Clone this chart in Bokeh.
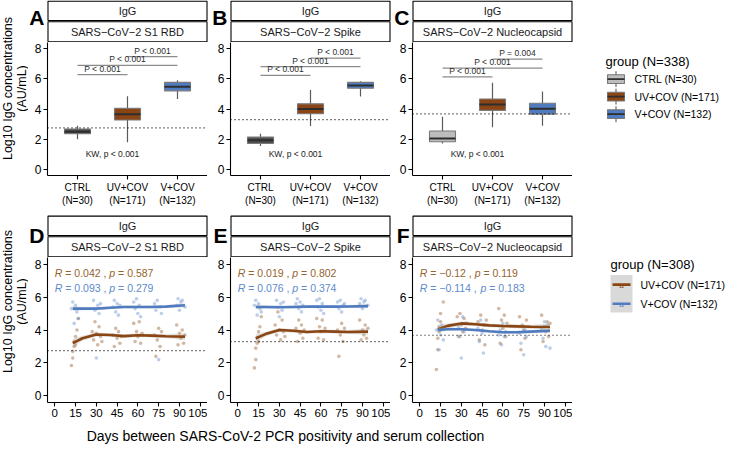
import math
from bokeh.plotting import figure
from bokeh.layouts import row, column
from bokeh.models import Range1d, FixedTicker, Span
from bokeh.embed import file_html
from bokeh.resources import INLINE
from bokeh.core.properties import value

FONT = "Liberation Sans"

# ---------------- data ----------------
isotype = "IgG"
antigens = ["SARS−CoV−2 S1 RBD", "SARS−CoV−2 Spike", "SARS−CoV−2 Nucleocapsid"]
letters_top = ["A", "B", "C"]
letters_bot = ["D", "E", "F"]
group_ticks = [1, 2, 3]
group_tick_labels = ["CTRL\n(N=30)", "UV+COV\n(N=171)", "V+COV\n(N=132)"]
legend_top_title = "group (N=338)"
legend_top_labels = ["CTRL (N=30)", "UV+COV (N=171)", "V+COV (N=132)"]
legend_bot_title = "group (N=308)"
legend_bot_labels = ["UV+COV (N=171)", "V+COV (N=132)"]
y_ticks = [0, 2, 4, 6, 8]
day_ticks = [0, 15, 30, 45, 60, 75, 90, 105]
cutoffs = [2.75, 3.3, 3.68]
y_title = ["Log10 IgG concentrations", "(AU/mL)"]
x_title = "Days between SARS-CoV-2 PCR positivity and serum collection"

# box stats: lower whisker, Q1, median, Q3, upper whisker
rbd_ctrl = [2.0, 2.36, 2.5, 2.68, 2.9]
rbd_uv = [1.8, 3.27, 3.65, 4.04, 4.84]
rbd_v = [4.66, 5.2, 5.48, 5.76, 5.9]
spike_ctrl = [1.56, 1.72, 1.93, 2.14, 2.36]
spike_uv = [2.88, 3.69, 4.0, 4.34, 5.25]
spike_v = [4.82, 5.37, 5.56, 5.76, 5.83]
nc_ctrl = [1.72, 1.83, 2.04, 2.54, 3.48]
nc_uv = [2.79, 3.91, 4.3, 4.66, 5.74]
nc_v = [2.9, 3.66, 4.02, 4.38, 5.16]

bracket_pairs = [(1, 2), (1, 3), (2, 3)]
rbd_bracket_y = [6.27, 6.88, 7.46]
spike_bracket_y = [6.23, 6.81, 7.37]
nc_bracket_y = [6.13, 6.7, 7.3]
rbd_bracket_p = ["P < 0.001", "P < 0.001", "P < 0.001"]
spike_bracket_p = ["P < 0.001", "P < 0.001", "P < 0.001"]
nc_bracket_p = ["P < 0.001", "P < 0.001", "P = 0.004"]
kw_text = "KW, p < 0.001"
kw_pos = [1.7, 1.0]

# per-subject days and values (bottom row)
days_uv = [12, 13, 13, 14, 14, 15, 15, 16, 17,
           27, 28, 29, 30, 31, 32, 33, 34,
           42, 43, 44, 45, 46, 47, 48,
           57, 58, 59, 60, 61, 62, 63,
           72, 73, 74, 75, 76, 77,
           88, 89, 90, 91, 92, 93, 94]
rbd_uv_pts = [1.85, 2.3, 2.7, 3.0, 3.3, 3.6, 3.1, 4.0, 4.7,
              3.9, 3.4, 4.5, 3.8, 3.1, 4.2, 3.6, 3.3,
              3.7, 3.0, 4.1, 3.5, 3.9, 3.2, 3.6,
              4.4, 3.3, 3.9, 3.6, 4.5, 3.2, 3.8,
              3.7, 2.4, 3.4, 4.1, 3.0, 3.9,
              4.3, 3.1, 3.8, 3.5, 4.0, 3.2, 3.7]
spike_uv_pts = [1.7, 2.2, 2.9, 3.2, 3.5, 3.9, 3.3, 4.2, 4.8,
                4.3, 3.7, 5.1, 4.0, 3.4, 4.6, 3.9, 3.6,
                4.1, 3.3, 4.6, 3.8, 4.3, 3.5, 4.0,
                4.7, 3.5, 4.2, 3.9, 4.6, 3.4, 4.1,
                4.0, 2.4, 3.7, 4.4, 3.3, 4.1,
                4.6, 3.4, 4.0, 3.7, 4.3, 3.5, 4.1]
nc_uv_pts = [1.6, 2.8, 3.5, 3.9, 4.2, 4.5, 5.0, 4.1, 5.7,
             4.8, 3.6, 5.0, 4.3, 3.9, 4.7, 4.1, 4.4,
             4.5, 3.4, 4.9, 4.0, 4.3, 3.1, 4.6,
             5.3, 3.2, 4.6, 4.1, 4.9, 3.6, 4.4,
             4.8, 2.8, 4.3, 4.0, 3.5, 4.6,
             4.9, 3.3, 4.2, 3.9, 4.5, 3.6, 4.4]
days_v = [12, 13, 14, 15, 16, 17,
          28, 29, 30, 31, 32, 33,
          42, 43, 44, 45, 46, 47,
          57, 58, 59, 60, 61, 62,
          72, 73, 74, 75, 76, 77,
          88, 89, 90, 91, 92, 94]
rbd_v_pts = [5.3, 5.7, 4.4, 5.5, 5.1, 4.7,
             5.8, 5.2, 2.3, 5.5, 5.0, 5.6,
             5.4, 5.8, 5.1, 5.6, 4.9, 5.5,
             5.7, 5.3, 5.9, 5.0, 5.5, 4.8,
             5.6, 5.2, 5.8, 2.2, 5.4, 5.0,
             5.5, 5.9, 5.2, 5.7, 5.8, 5.4]
spike_v_pts = [5.5, 5.8, 4.9, 5.6, 5.3, 5.1,
               5.8, 5.4, 4.8, 5.6, 5.2, 5.7,
               5.6, 5.9, 5.3, 5.7, 5.1, 5.5,
               5.8, 5.4, 5.9, 5.2, 5.6, 5.0,
               5.7, 5.3, 5.8, 5.1, 5.5, 5.6,
               5.6, 5.9, 5.3, 5.7, 5.8, 5.5]
nc_v_pts = [4.0, 4.6, 2.8, 3.7, 4.3, 3.4,
            4.2, 3.6, 2.3, 4.8, 3.9, 4.4,
            4.1, 3.3, 4.6, 3.8, 2.6, 4.3,
            3.7, 4.0, 3.1, 4.4, 3.6, 3.9,
            3.8, 3.2, 4.2, 2.5, 4.0, 3.6,
            4.1, 3.5, 4.5, 3.0, 4.3, 2.9]

# loess fits
smooth_days = [13, 20, 30, 40, 50, 60, 70, 80, 94]
rbd_uv_fit = [3.2, 3.5, 3.73, 3.7, 3.63, 3.68, 3.66, 3.62, 3.6]
rbd_v_fit = [5.3, 5.3, 5.3, 5.35, 5.4, 5.4, 5.4, 5.42, 5.5]
spike_uv_fit = [3.5, 3.75, 4.0, 3.95, 3.88, 3.92, 3.9, 3.88, 3.9]
spike_v_fit = [5.4, 5.4, 5.38, 5.4, 5.42, 5.42, 5.42, 5.43, 5.45]
nc_uv_fit = [4.05, 4.25, 4.4, 4.35, 4.28, 4.24, 4.22, 4.2, 4.18]
nc_v_fit = [4.0, 4.05, 4.05, 4.0, 3.92, 3.86, 3.86, 3.9, 3.95]
uv_fit_se = [0.25, 0.15, 0.12, 0.11, 0.11, 0.11, 0.11, 0.12, 0.2]
v_fit_se = [0.15, 0.1, 0.08, 0.08, 0.08, 0.08, 0.08, 0.09, 0.13]

r_uv = ["0.042", "0.019", "−0.12"]
p_uv = ["0.587", "0.802", "0.119"]
r_v = ["0.093", "0.076", "−0.114"]
p_v = ["0.279", "0.374", "0.183"]

# ---------------- styles / geometry ----------------
COL_CTRL_DARK = "#4f4f4f"
COL_CTRL_LIGHT = "#bdbdbd"
COL_UV = "#8B4513"
COL_V = "#4F7CC0"
COL_UV_TXT = "#96642E"
COL_V_TXT = "#5E8ACB"
COL_UV_PT = "#9A6232"
COL_V_PT = "#6A93CF"

FW = 160
Y0, Y1 = -0.4, 8.4
X0_TOP, X1_TOP = 0.4, 3.6
X0_BOT, X1_BOT = -5.25, 110.25
LEFTS = [19, 23, 22]
YLAB_W = 28
LEG_W = 158
MAIN_W = sum(LEFTS) + 3 * FW + LEG_W
BAND1 = dict(h=42, strip_top=0, letter_base=17)
BAND2 = dict(h=48, strip_top=6, letter_base=26)
ROW1 = dict(frame_h=133, bottom=34)
ROW2 = dict(frame_h=145, bottom=21)
XT_H = 25

CW = {'R': 0.722, 'p': 0.556, ' ': 0.278, '=': 0.584, ',': 0.278, '.': 0.278, '−': 0.584}


def text_w(s, size):
    return sum(CW.get(c, 0.556) for c in s) * size


def bare_fig(w, h):
    p = figure(width=w, height=h, x_range=Range1d(0, w), y_range=Range1d(h, 0),
               min_border_left=0, min_border_right=0, min_border_top=0, min_border_bottom=0,
               x_axis_type=None, y_axis_type=None, output_backend="svg", toolbar_location=None)
    p.outline_line_color = None
    p.grid.grid_line_color = None
    return p


def style_axis(ax, size):
    ax.axis_line_color = "black"
    ax.axis_line_width = 1.1
    ax.major_tick_line_color = "black"
    ax.major_tick_line_width = 1.1
    ax.major_tick_out = 4
    ax.major_tick_in = 0
    ax.minor_tick_line_color = None
    ax.major_label_text_font = FONT
    ax.major_label_text_font_size = size
    ax.major_label_text_color = "black"
    ax.major_label_standoff = 2


def panel(rowcfg, left, x0, x1):
    p = figure(width=left + FW, height=rowcfg["frame_h"] + rowcfg["bottom"],
               x_range=Range1d(x0, x1), y_range=Range1d(Y0, Y1),
               min_border_left=left, min_border_right=0,
               min_border_top=0, min_border_bottom=rowcfg["bottom"],
               output_backend="svg", toolbar_location=None)
    p.outline_line_color = None
    p.grid.grid_line_color = None
    style_axis(p.xaxis[0], "11.5px")
    style_axis(p.yaxis[0], "12px")
    p.yaxis.ticker = FixedTicker(ticks=y_ticks)
    return p


def band(cfg, letters):
    """Facet strips and panel letters above a row of panels (pixel coordinates)."""
    b = bare_fig(MAIN_W, cfg["h"])
    lefts = [sum(LEFTS[:i + 1]) + i * FW for i in range(3)]
    st = cfg["strip_top"]
    b.quad(left=[l + 0.5 for l in lefts] * 2, right=[l + FW - 0.5 for l in lefts] * 2,
           top=[st + 0.6] * 3 + [st + 21.2] * 3, bottom=[st + 20.0] * 3 + [st + 41.2] * 3,
           fill_color="white", line_color="black", line_width=1.1)
    b.text(x=[l + FW / 2 for l in lefts] * 2, y=[st + 10.3] * 3 + [st + 31.2] * 3,
           text=[isotype] * 3 + antigens, text_font=value(FONT), text_font_size="11px",
           text_align="center", text_baseline="middle", text_color="#1a1a1a")
    b.text(x=[l - 3 for l in lefts], y=[cfg["letter_base"]] * 3, text=letters,
           text_font=value(FONT), text_font_size="21px", text_font_style="bold",
           text_align="right", text_baseline="alphabetic", text_color="black")
    return b


def ylab_fig(h, yc):
    p = bare_fig(YLAB_W, h)
    p.text(x=[7, 21], y=[yc] * 2, text=y_title, angle=math.pi / 2,
           text_font=value(FONT), text_font_size="12.5px", text_align="center",
           text_baseline="middle", text_color="black")
    return p


def box_panel(i, stats, fills, br_y, br_p):
    p = panel(ROW1, LEFTS[i], X0_TOP, X1_TOP)
    p.xaxis.ticker = FixedTicker(ticks=group_ticks)
    p.xaxis.major_label_overrides = {t: l for t, l in zip(group_ticks, group_tick_labels)}
    p.xaxis.major_label_text_font_size = "10px"
    p.add_layout(Span(location=cutoffs[i], dimension="width", line_color="black",
                      line_dash="1 3", line_width=1.2))
    lo = [s[0] for s in stats]
    q1 = [s[1] for s in stats]
    md = [s[2] for s in stats]
    q3 = [s[3] for s in stats]
    hi = [s[4] for s in stats]
    bw = 0.52
    p.segment(x0=group_ticks, y0=lo, x1=group_ticks, y1=hi, line_color="#5a5a5a", line_width=1.2)
    p.vbar(x=group_ticks, width=bw, bottom=q1, top=q3, fill_color=fills,
           line_color="#7a7a7a", line_width=1.1)
    p.segment(x0=[g - bw / 2 for g in group_ticks], y0=md, x1=[g + bw / 2 for g in group_ticks],
              y1=md, line_color="#2e2e2e", line_width=2)
    xa = [group_ticks[a - 1] for a, b in bracket_pairs]
    xb = [group_ticks[b - 1] for a, b in bracket_pairs]
    p.segment(x0=xa, y0=br_y, x1=xb, y1=br_y, line_color="#8c8c8c", line_width=1.3)
    p.text(x=[(a + b) / 2 for a, b in zip(xa, xb)], y=br_y, text=br_p, y_offset=-1,
           text_font=value(FONT), text_font_size="8.5px", text_align="center",
           text_baseline="bottom", text_color="#2a2a2a")
    p.text(x=[kw_pos[0]], y=[kw_pos[1]], text=[kw_text], text_font=value(FONT),
           text_font_size="8.5px", text_align="center", text_baseline="middle",
           text_color="#1a1a1a")
    return p


def scatter_panel(i, uv_pts, v_pts, uv_fit, v_fit):
    p = panel(ROW2, LEFTS[i], X0_BOT, X1_BOT)
    p.xaxis.ticker = FixedTicker(ticks=day_ticks)
    p.add_layout(Span(location=cutoffs[i], dimension="width", line_color="black",
                      line_dash="1 3", line_width=1.2))
    p.scatter(x=days_uv, y=uv_pts, size=3.6, fill_color=COL_UV_PT, fill_alpha=0.45, line_color=None)
    p.scatter(x=days_v, y=v_pts, size=3.6, fill_color=COL_V_PT, fill_alpha=0.45, line_color=None)
    for fit, se, col in ((uv_fit, uv_fit_se, COL_UV), (v_fit, v_fit_se, COL_V)):
        p.varea(x=smooth_days, y1=[f - s for f, s in zip(fit, se)], y2=[f + s for f, s in zip(fit, se)],
                fill_color="#a8a8a8", fill_alpha=0.35)
        p.line(x=smooth_days, y=fit, line_color=col, line_width=2.6)
    fs = 10.5
    gap = CW[' '] * fs
    for r, pv, yy, col in ((r_uv[i], p_uv[i], 7.45, COL_UV_TXT), (r_v[i], p_v[i], 6.55, COL_V_TXT)):
        parts = [("R", "italic"), ("= " + r + " ,", "normal"), ("p", "italic"), ("= " + pv, "normal")]
        off = 0.0
        for s, st in parts:
            p.text(x=[0], y=[yy], text=[s], x_offset=off, text_font=value(FONT),
                   text_font_size=f"{fs}px", text_font_style=st, text_align="left",
                   text_baseline="middle", text_color=col)
            off += text_w(s, fs) + gap
    return p


# ---------------- top row ----------------
band1 = band(BAND1, letters_top)
pA = box_panel(0, [rbd_ctrl, rbd_uv, rbd_v], [COL_CTRL_DARK, COL_UV, COL_V], rbd_bracket_y, rbd_bracket_p)
pB = box_panel(1, [spike_ctrl, spike_uv, spike_v], [COL_CTRL_DARK, COL_UV, COL_V], spike_bracket_y, spike_bracket_p)
pC = box_panel(2, [nc_ctrl, nc_uv, nc_v], [COL_CTRL_LIGHT, COL_UV, COL_V], nc_bracket_y, nc_bracket_p)

h1 = ROW1["frame_h"] + ROW1["bottom"]
leg1 = bare_fig(LEG_W, h1)
leg1.text(x=[33], y=[24], text=[legend_top_title], text_font=value(FONT), text_font_size="13px",
          text_align="left", text_baseline="middle", text_color="black")
key_fill = [COL_CTRL_LIGHT, COL_UV, COL_V]
key_y = [46, 68, 90]
leg1.segment(x0=[43.5] * 3, y0=[y - 10 for y in key_y], x1=[43.5] * 3, y1=[y + 10 for y in key_y],
             line_color="#5a5a5a", line_width=1.1)
leg1.quad(left=35, right=52, top=[y - 5.5 for y in key_y], bottom=[y + 5.5 for y in key_y],
          fill_color=key_fill, line_color="#7a7a7a", line_width=1.1)
leg1.segment(x0=[35] * 3, y0=key_y, x1=[52] * 3, y1=key_y, line_color="#2e2e2e", line_width=1.8)
leg1.text(x=[62] * 3, y=key_y, text=legend_top_labels, text_font=value(FONT), text_font_size="10.5px",
          text_align="left", text_baseline="middle", text_color="black")

# ---------------- bottom row ----------------
band2 = band(BAND2, letters_bot)
pD = scatter_panel(0, rbd_uv_pts, rbd_v_pts, rbd_uv_fit, rbd_v_fit)
pE = scatter_panel(1, spike_uv_pts, spike_v_pts, spike_uv_fit, spike_v_fit)
pF = scatter_panel(2, nc_uv_pts, nc_v_pts, nc_uv_fit, nc_v_fit)

h2 = ROW2["frame_h"] + ROW2["bottom"]
leg2 = bare_fig(LEG_W, h2)
leg2.text(x=[38], y=[8], text=[legend_bot_title], text_font=value(FONT), text_font_size="13px",
          text_align="left", text_baseline="middle", text_color="black")
leg2.quad(left=38, right=60, top=20, bottom=63, fill_color="#d9d9d9", line_color=None)
lkey_y = [31, 53]
lkey_col = [COL_UV, COL_V]
leg2.segment(x0=[40, 40], y0=lkey_y, x1=[58, 58], y1=lkey_y, line_color=lkey_col, line_width=2.6)
leg2.text(x=[49, 49], y=[y + 1 for y in lkey_y], text=["a", "a"], text_font=value(FONT),
          text_font_size="8px", text_align="center", text_baseline="middle", text_color=lkey_col)
leg2.text(x=[68, 68], y=lkey_y, text=legend_bot_labels, text_font=value(FONT), text_font_size="10.5px",
          text_align="left", text_baseline="middle", text_color="black")

# ---------------- y titles (left column) and x title ----------------
top_h = BAND1["h"] + h1
bot_h = BAND2["h"] + h2
ylab1 = ylab_fig(top_h, BAND1["h"] + ROW1["frame_h"] - 87)
ylab2 = ylab_fig(bot_h, BAND2["h"] + ROW2["frame_h"] - 101)

xt = bare_fig(MAIN_W, XT_H)
xt.text(x=[257], y=[XT_H / 2], text=[x_title], text_font=value(FONT), text_font_size="14px",
        text_align="center", text_baseline="middle", text_color="black")

main = column(band1, row(pA, pB, pC, leg1), band2, row(pD, pE, pF, leg2), xt)
layout = row(column(ylab1, ylab2), main)
open("out.html", "w").write(file_html(layout, INLINE))
